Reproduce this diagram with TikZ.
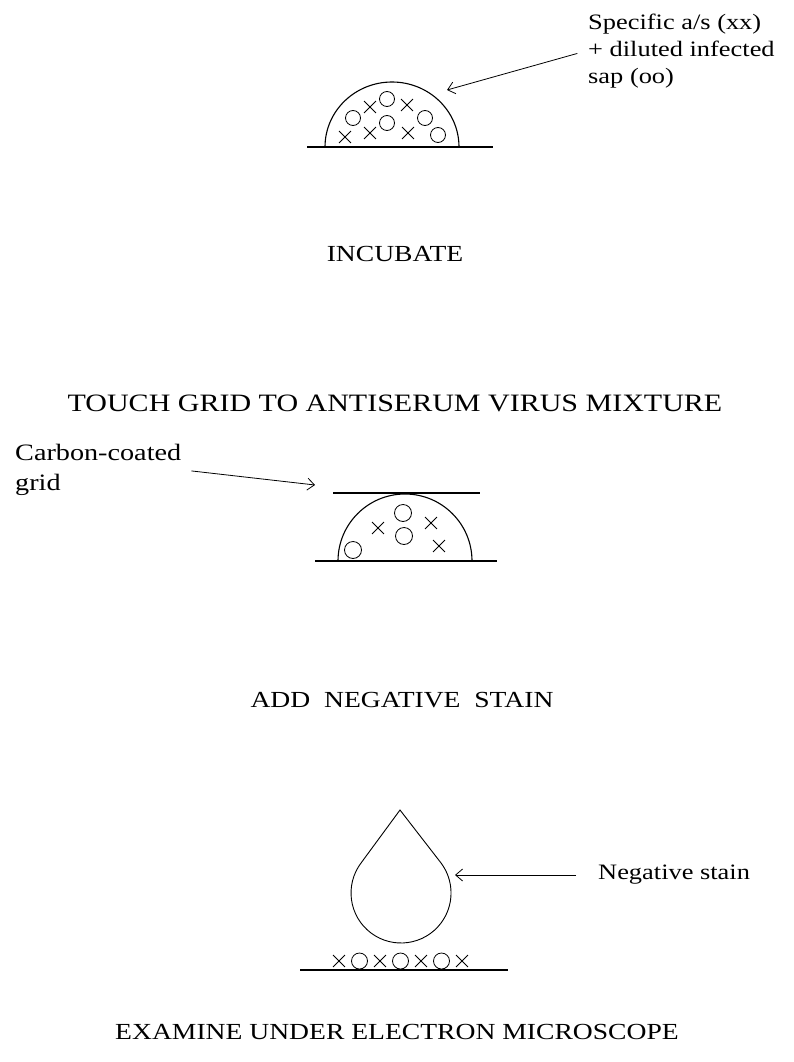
\documentclass[tikz,border=0pt]{standalone}
\usepackage{fontspec}
\newfontfamily\scanfont[FakeStretch=1.2]{Liberation Serif}
\usepackage{tikz}
\usetikzlibrary{arrows.meta,shapes.misc}

\begin{document}
\begin{tikzpicture}[
  x=1pt, y=-1pt,
  stage/.style={font=\scanfont\fontsize{23}{27}\selectfont, inner sep=0pt},
  note/.style={font=\scanfont\fontsize{22}{27}\selectfont, align=left, inner sep=2pt},
  surface/.style={line width=1.1pt},
  virion/.style={draw, circle, minimum size=15pt, inner sep=0pt, line width=0.8pt},
  antibody/.style={draw, cross out, minimum size=11pt, inner sep=0pt, line width=0.9pt},
  pointer/.style={-{Straight Barb[length=7pt, width=12pt]}, line width=0.8pt}
]
\useasboundingbox (0,0) rectangle (794,1062);

% mixture on the slide
\draw[surface] (307,147) -- (493,147);
\draw[surface] (325,147) arc[start angle=180, end angle=0, x radius=67pt, y radius=65pt];
\foreach \p in {(353,118), (387,99), (425,118), (387,123), (438,135)}
  \node[virion] at \p {};
\foreach \p in {(345,137), (370,107), (407,105), (370,133), (408,133)}
  \node[antibody] at \p {};
\coordinate (mixtip) at (447,90);
\node[note, anchor=west] (mix) at (586,51) {Specific a/s (xx)\\+ diluted infected\\sap (oo)};
\draw[pointer, shorten <=9pt] (mix.west) -- (mixtip);

\node[stage] (incubate) at (395,254) {INCUBATE};
\node[stage, font=\scanfont\fontsize{25}{29}\selectfont] (touch) at (395,403) {TOUCH GRID TO ANTISERUM VIRUS MIXTURE};

% grid on the drop
\draw[surface] (333,493) -- (480,493);
\draw[surface] (315,561) -- (497,561);
\draw[surface] (338,561) arc[start angle=180, end angle=0, radius=67pt];
\foreach \p in {(353,550), (403,513), (404,536)}
  \node[virion, minimum size=17pt] at \p {};
\foreach \p in {(378,528), (431,523), (439,546)}
  \node[antibody] at \p {};
\coordinate (gridtip) at (315,485);
\node[note, anchor=west, font=\scanfont\fontsize{23.5}{30}\selectfont] (carbon) at (13,470) {Carbon-coated\\grid};
\draw[pointer, shorten <=8pt] (carbon.east) -- (gridtip);

\node[stage] (addstain) at (402,700) {ADD~~NEGATIVE~~STAIN};

% stain drop over the particles
\draw[line width=0.9pt] (400,810) -- (361.1,862.9)
  arc[start angle=143, end angle=397, radius=50pt] -- cycle;
\draw[surface] (300,970) -- (508,970);
\foreach \x in {339,380,421,462}
  \node[antibody] at (\x,961) {};
\foreach \x in {359.5,400.5,441.5}
  \node[virion, minimum size=16pt] at (\x,961) {};
\coordinate (droptip) at (455,875);
\node[note, anchor=west] (negstain) at (596,875) {Negative stain};
\draw[pointer, shorten <=20pt] (negstain.west) -- (droptip);

\node[stage] (examine) at (397,1032) {EXAMINE UNDER ELECTRON MICROSCOPE};
\end{tikzpicture}
\end{document}
